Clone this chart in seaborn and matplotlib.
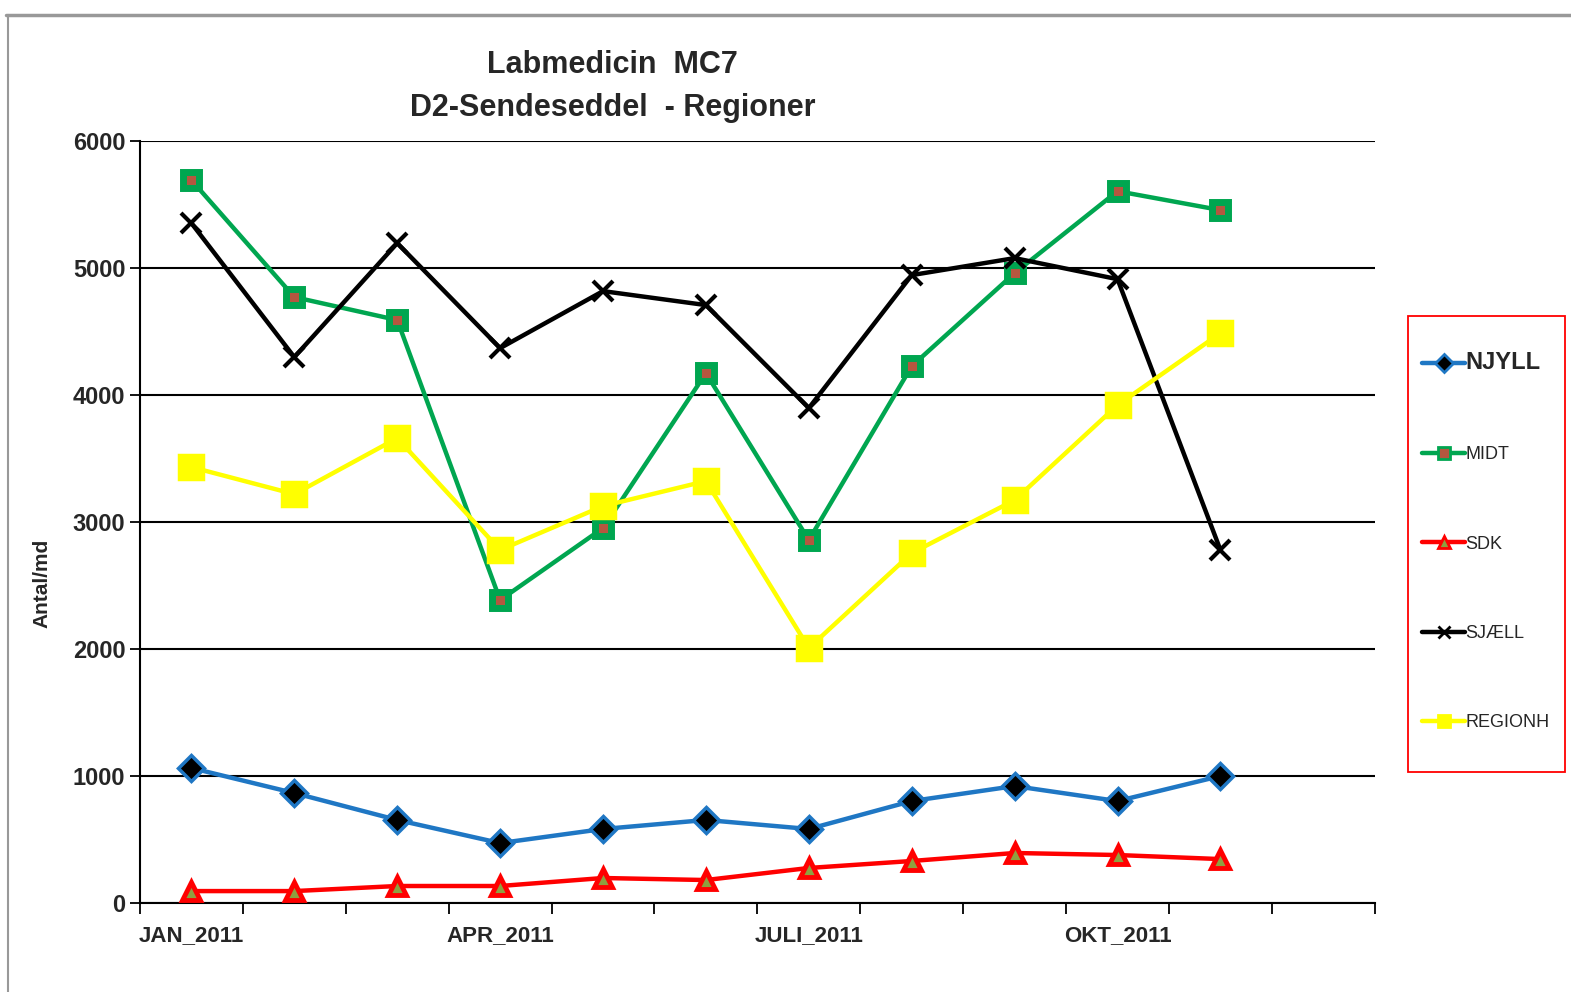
import matplotlib
matplotlib.use("Agg")
import matplotlib.pyplot as plt
import seaborn as sns
import pandas as pd
from matplotlib.lines import Line2D
from matplotlib.patches import Rectangle

months = ["JAN_2011", "FEB_2011", "MAR_2011", "APR_2011", "MAJ_2011", "JUNI_2011",
          "JULI_2011", "AUG_2011", "SEP_2011", "OKT_2011", "NOV_2011"]
tick_labels = ["JAN_2011", "APR_2011", "JULI_2011", "OKT_2011"]

njyll = [1063, 866, 654, 472, 583, 654, 583, 803, 921, 803, 1000]
midt = [5693, 4772, 4591, 2386, 2953, 4173, 2858, 4228, 4961, 5606, 5457]
sdk = [94, 94, 134, 134, 197, 181, 276, 331, 394, 378, 346]
sjaell = [5354, 4299, 5197, 4370, 4819, 4709, 3898, 4945, 5079, 4913, 2780]
regionh = [3433, 3220, 3661, 2780, 3126, 3323, 2008, 2756, 3173, 3921, 4488]

sns.set_style("white")
plt.rcParams['font.family'] = ['Liberation Sans Narrow', 'Liberation Sans', 'DejaVu Sans']

fig = plt.figure(figsize=(15.71, 9.92), dpi=100)
ax = fig.add_axes([0.0891, 0.0897, 0.786, 0.768])

x = list(range(len(months)))
# name, values, line colour, marker, face, edge, size, edge width
styles = [
    ("NJYLL", njyll, "#1f77c4", "D", "black", "#1f77c4", 13, 2.5),
    ("MIDT", midt, "#00a650", "s", "#b5573f", "#00a650", 11, 5),
    ("SDK", sdk, "#ff0000", "^", "#8fa040", "#ff0000", 13, 3.5),
    ("SJÆLL", sjaell, "black", "x", "black", "black", 15, 3),
    ("REGIONH", regionh, "#ffff00", "s", "#ffff00", "#ffff00", 17, 2.5),
]
handles = []
for name, vals, col, mk, mfc, mec, ms, mew in styles:
    df = pd.DataFrame({"x": x, "y": vals})
    sns.lineplot(data=df, x="x", y="y", ax=ax, color=col, linewidth=3.2,
                 marker=mk, markersize=ms, markerfacecolor=mfc,
                 markeredgecolor=mec, markeredgewidth=mew, zorder=3)
    handles.append(Line2D([0], [0], color=col, linewidth=3.2, marker=mk,
                          markersize=9, markerfacecolor=mfc,
                          markeredgecolor=mec, markeredgewidth=2))

ax.set_xlim(-0.5, 11.5)
ax.set_ylim(0, 6000)
ax.set_yticks(range(0, 6001, 1000))
ax.set_yticklabels([str(v) for v in range(0, 6001, 1000)], fontsize=17, fontweight="bold")
ax.yaxis.grid(True, color="black", linewidth=1.5)
ax.set_axisbelow(True)
ax.set_xticks([0, 3, 6, 9])
ax.set_xticklabels(tick_labels, fontsize=16, fontweight="bold")
ax.set_xticks([i - 0.5 for i in range(13)], minor=True)
ax.tick_params(axis="x", which="major", length=0, pad=16)
ax.tick_params(axis="x", which="minor", length=8, width=1.3, color="black", direction="out", bottom=True)
ax.tick_params(axis="y", length=7, width=1.3, color="black", direction="out", left=True)
ax.set_xlabel("")
ax.set_ylabel("Antal/md", fontsize=15, fontweight="bold")
ax.yaxis.set_label_coords(-0.072, 0.42)
for s in ["top", "right"]:
    ax.spines[s].set_visible(False)
for s in ["left", "bottom"]:
    ax.spines[s].set_color("black")
    ax.spines[s].set_linewidth(1.5)

fig.text(0.39, 0.934, "Labmedicin  MC7", fontsize=22, fontweight="bold", ha="center", va="center")
fig.text(0.39, 0.891, "D2-Sendeseddel  - Regioner", fontsize=22, fontweight="bold", ha="center", va="center")

# legend box
fig.add_artist(Rectangle((0.8963, 0.2218), 0.1, 0.4597, transform=fig.transFigure,
                         fill=False, edgecolor="red", linewidth=1.3))
leg = fig.legend(handles, [s[0] for s in styles], loc="upper left",
                 bbox_to_anchor=(0.9052, 0.646), frameon=False,
                 labelspacing=4.0, handlelength=2.4, handletextpad=0.0,
                 borderpad=0, borderaxespad=0, fontsize=13)
texts = leg.get_texts()
texts[0].set_fontsize(17)
texts[0].set_fontweight("bold")

# window border
fig.add_artist(Line2D([0.004, 1], [0.985, 0.985], color="#999999", linewidth=2.5))
fig.add_artist(Line2D([0.005, 0.005], [0, 0.985], color="#999999", linewidth=1.5))

fig.savefig("out.png", dpi=100)
